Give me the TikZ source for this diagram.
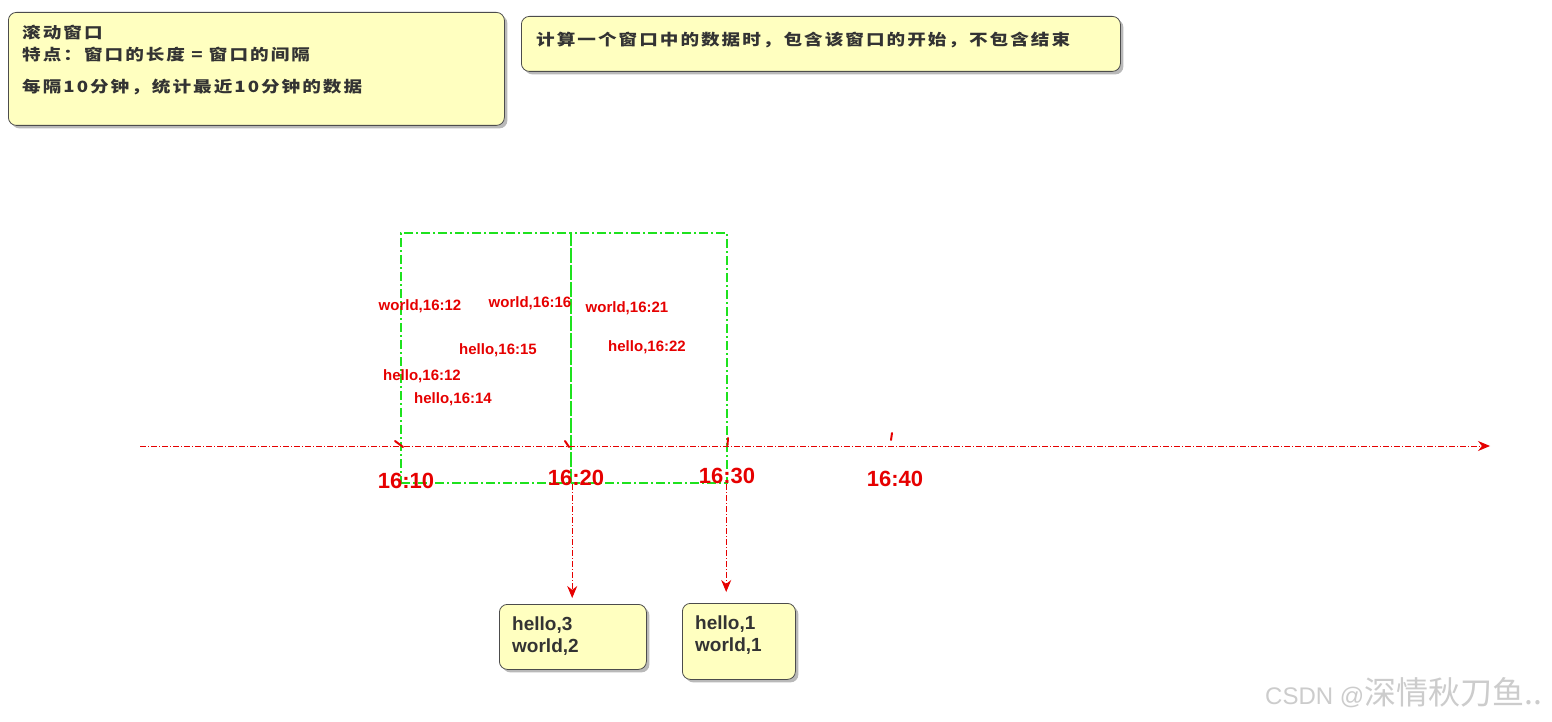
\documentclass[tikz,border=0pt]{standalone}
\usepackage{fontspec}
\setmainfont{Liberation Sans}
\newfontfamily\cjk[FakeStretch=1.2,LetterSpace=13]{Noto Sans CJK SC}
\newfontfamily\cjkw{Noto Sans CJK SC}
\usetikzlibrary{shadows,arrows.meta}
\definecolor{note}{RGB}{255,255,192}
\definecolor{grn}{RGB}{30,226,30}
\definecolor{rd}{RGB}{230,0,0}
\definecolor{ink}{RGB}{51,51,51}
\begin{document}
\begin{tikzpicture}[x=1pt,y=-1pt,
  notebox/.style={draw=black!70, fill=note, rounded corners=8pt, line width=0.8pt, inner sep=0pt,
    drop shadow={shadow xshift=3pt, shadow yshift=-3pt, fill=black!50, opacity=0.55}},
  cjktext/.style={font=\cjk\bfseries\fontsize{15.5}{22}\selectfont, text=black!80, inner sep=0pt},
  win/.style={draw=grn, line width=2.2pt, dash pattern=on 9pt off 3pt on 2pt off 3pt, inner sep=0pt},
  axisline/.style={draw=rd, line width=0.9pt, dash pattern=on 6pt off 2pt on 1pt off 2pt},
  tick/.style={draw=rd, line width=2pt, line cap=round},
  datum/.style={text=rd, font=\bfseries\fontsize{15}{15}\selectfont, inner sep=0pt},
  tlabel/.style={text=rd, font=\bfseries\fontsize{22}{22}\selectfont, inner sep=0pt},
  result/.style={text=ink, font=\bfseries\fontsize{19}{22}\selectfont, inner sep=0pt, align=left},
  tip/.style={-{Stealth[length=12pt,width=10pt]}}
]
\useasboundingbox[fill=white] (0,0) rectangle (1552,722);

% top notes
\node[notebox, anchor=north west, minimum width=496pt, minimum height=113pt] (b1) at (8,12) {};
\node[cjktext, anchor=north west, align=left] (t1) at (22,25)
  {滚动窗口\\特点：窗口的长度 = 窗口的间隔\\[10pt]每隔10分钟，统计最近10分钟的数据};
\node[notebox, anchor=north west, minimum width=599pt, minimum height=55pt] (b2) at (521,16) {};
\node[cjktext, anchor=west] (t2) at (536,40) {计算一个窗口中的数据时，包含该窗口的开始，不包含结束};

% windows
\node[win, anchor=north west, minimum width=170pt, minimum height=250pt] (w1) at (400,232) {};
\node[win, anchor=north west, minimum width=156pt, minimum height=250pt] (w2) at (570,232) {};

% time axis
\coordinate (ax0) at (140,446);
\coordinate (ax1) at (1490,446);
\draw[axisline, tip, rd] (ax0) -- (ax1);
\draw[tick] (395,441) -- (403,447);
\draw[tick] (565,441) -- (569,447);
\draw[tick] (728,438) -- (727.5,445);
\draw[tick] (892,433) -- (891,440);

\node[tlabel] (l10) at (406,481) {16:10};
\node[tlabel] (l20) at (576,478) {16:20};
\node[tlabel] (l30) at (727,476) {16:30};
\node[tlabel] (l40) at (895,479) {16:40};

% data
\node[datum] (d1) at (420,306) {world,16:12};
\node[datum] (d2) at (530,303) {world,16:16};
\node[datum] (d3) at (627,308) {world,16:21};
\node[datum] (d4) at (498,350) {hello,16:15};
\node[datum] (d5) at (647,347) {hello,16:22};
\node[datum] (d6) at (422,376) {hello,16:12};
\node[datum] (d7) at (453,399) {hello,16:14};

% results
\node[notebox, anchor=north west, minimum width=147pt, minimum height=65pt] (r1) at (499,604) {};
\node[result, anchor=west] (rt1) at (512,636) {hello,3\\world,2};
\node[notebox, anchor=north west, minimum width=113pt, minimum height=76pt] (r2) at (682,603) {};
\node[result, anchor=west] (rt2) at (695,635) {hello,1\\world,1};

\draw[axisline, tip, rd, shorten >=6pt] (w1.south east) -- (w1.south east |- r1.north);
\draw[axisline, tip, rd, shorten >=11pt] ([xshift=-2pt]w2.south east) -- ([xshift=-2pt]w2.south east |- r2.north);

% watermark
\node[text=black!20, inner sep=0pt, anchor=west] (wm) at (1265,693)
  {\fontsize{24}{24}\selectfont CSDN @\cjkw\fontsize{32}{32}\selectfont 深情秋刀鱼..};
\end{tikzpicture}
\end{document}
